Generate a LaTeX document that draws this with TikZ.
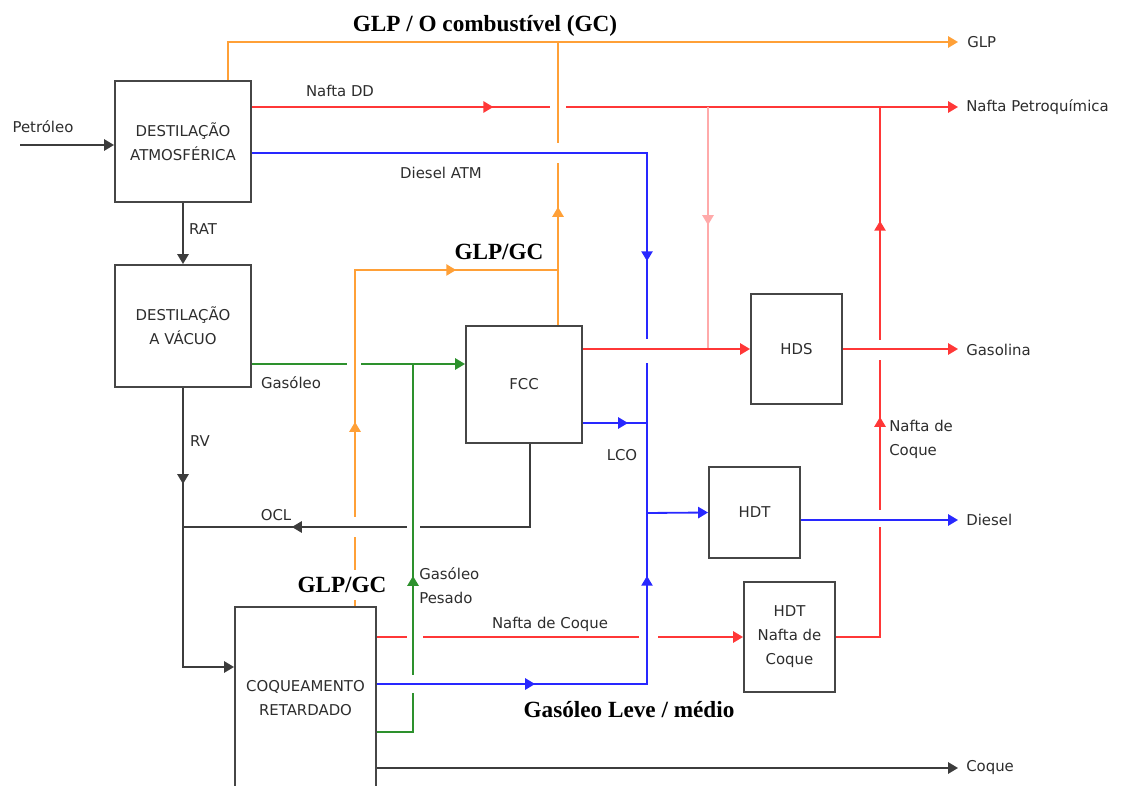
\documentclass[tikz,border=0pt]{standalone}
\usepackage{fontspec}
\usepackage{tikz}
\usetikzlibrary{arrows.meta,positioning,calc,decorations.markings}
\newfontfamily\lblfont{DejaVu Sans}
\newfontfamily\titlefont{Liberation Serif}
\definecolor{flowred}{RGB}{255,55,55}
\definecolor{flowpink}{RGB}{255,170,170}
\definecolor{flowblue}{RGB}{40,40,255}
\definecolor{floworange}{RGB}{255,160,55}
\definecolor{flowgreen}{RGB}{45,145,45}
\definecolor{flowblack}{RGB}{60,60,60}
\definecolor{boxgray}{RGB}{70,70,70}
\definecolor{txtgray}{RGB}{45,45,45}

\begin{document}
\begin{tikzpicture}[x=0.025cm, y=-0.025cm,
  >={Triangle[length=7pt,width=8pt]},
  unit/.style={rectangle, draw=boxgray, line width=1.4pt, inner sep=0pt, align=center, text=txtgray, font=\lblfont\fontsize{10.6}{17}\selectfont},
  lbl/.style={inner sep=0pt, text=txtgray, font=\lblfont\fontsize{10.6}{17}\selectfont},
  big/.style={inner sep=1pt, text=black, font=\titlefont\bfseries\fontsize{16.5}{18}\selectfont},
  flow/.style={line width=1.3pt},
  gap/.style={draw=white, line width=4.5pt},
  midarr/.style={postaction={decorate, decoration={markings, mark=at position #1 with {\arrow{>}}}}}
]
\useasboundingbox (0,0) rectangle (1122,786);

\node[unit, minimum width=3.4cm, minimum height=3.025cm] (atm) at (183,141.5) {DESTILAÇÃO\\ATMOSFÉRICA};
\node[unit, minimum width=3.4cm, minimum height=3.05cm] (vac) at (183,326) {DESTILAÇÃO\\A VÁCUO};
\node[unit, minimum width=2.9cm, minimum height=2.925cm] (fcc) at (524,384.5) {FCC};
\node[unit, minimum width=2.275cm, minimum height=2.75cm] (hds) at (796.5,349) {HDS};
\node[unit, minimum width=2.275cm, minimum height=2.275cm] (hdt) at (754.5,512.5) {HDT};
\node[unit, minimum width=2.275cm, minimum height=2.75cm] (hdtn) at (789.5,637) {HDT\\Nafta de\\Coque};
\node[unit, minimum width=3.525cm, minimum height=4.575cm] (coq) at (305.5,698.5) {COQUEAMENTO\\RETARDADO};

\coordinate (pin) at (20,145);
\coordinate (glpT) at (228,42);
\coordinate (glpE) at (958,42);
\coordinate (npE) at (958,107);
\coordinate (pinkT) at (708,107);
\coordinate (ocT) at (558,42);
\coordinate (ocM) at (558,270);
\coordinate (ocL) at (355,270);
\coordinate (dATM) at (647,153);
\coordinate (bjH) at (647,513);
\coordinate (lcoJ) at (647,423);
\coordinate (bjB) at (647,684);
\coordinate (gasE) at (958,349);
\coordinate (dieE) at (958,520);
\coordinate (rcT) at (880,107);
\coordinate (coqE) at (958,768);
\coordinate (gj) at (413,364);
\coordinate (gpC) at (413,732);
\coordinate (oclC) at (530,527);
\coordinate (rvJ) at (183,527);
\coordinate (rvB) at (183,667);

\draw[flow, flowred, ->, midarr=6.03cm] (atm.east |- npE) -- (npE);
\draw[gap] (550,107) -- (566,107);
\draw[flow, flowpink, midarr=2.95cm] (pinkT) -- (pinkT |- hds.west);
\draw[flow, floworange, midarr=2.95cm] (fcc.north -| ocT) -- (ocT);
\draw[gap] (558,143) -- (558,163);
\draw[flow, flowblue, midarr=12.575cm] (atm.east |- dATM) -- (dATM) -- (bjH);
\draw[gap] (647,339) -- (647,363);
\draw[flow, flowred, ->] (fcc.east |- hds.west) -- (hds.west);
\draw[flow, flowred, midarr=6.6cm, midarr=11.5cm] (hdtn.east) -| (rcT);
\draw[gap] (880,340) -- (880,360);
\draw[gap] (880,510) -- (880,527);
\draw[flow, flowred, ->] (hds.east) -- (gasE);
\draw[flow, flowblue, ->] (hdt.east |- dieE) -- (dieE);
\draw[flow, flowred, ->] (coq.east |- hdtn.west) -- (hdtn.west);
\draw[gap] (407,637) -- (423,637);
\draw[gap] (639,637) -- (658,637);
\draw[flow, flowgreen, ->] (vac.east |- gj) -- (fcc.west |- gj);
\draw[gap] (347,364) -- (361,364);
\draw[flow, floworange, midarr=4.6cm, midarr=10.925cm] (coq.north -| ocL) -- (ocL) -- (ocM);
\draw[gap] (355,517) -- (355,537);
\draw[flow, flowblack, midarr=8.025cm] (fcc.south -| oclC) -- (oclC) -- (rvJ);
\draw[gap] (407,527) -- (420,527);
\draw[flow, flowgreen, midarr=4.8cm] (coq.east |- gpC) -- (gpC) -- (gj);
\draw[gap] (413,675) -- (413,693);
\draw[flow, flowblue, midarr=3.95cm, midarr=9.45cm] (coq.east |- bjB) -- (bjB) -- (bjH);
\draw[flow, flowblue, midarr=1.125cm] (fcc.east |- lcoJ) -- (lcoJ);
\draw[flow, flowblue, ->] (bjH) -- (hdt.west);
\draw[flow, floworange, ->] (atm.north -| glpT) -- (glpT) -- (glpE);
\draw[flow, flowblack, ->] (pin) -- (pin -| atm.west);
\draw[flow, flowblack, ->] (atm.south) -- (vac.north);
\draw[flow, flowblack, ->, midarr=2.4cm] (vac.south) -- (rvB) -- (rvB -| coq.west);
\draw[flow, flowblack, ->] (coq.east |- coqE) -- (coqE);

\node[lbl] (lpet) at (43,127) {Petróleo};
\node[lbl] (lndd) at (340,91) {Nafta DD};
\node[lbl] (ldatm) at (441,173) {Diesel ATM};
\node[big] (ltitle) at (485,26) {GLP / O combustível (GC)};
\node[big] (lglpgc) at (499,252) {GLP/GC};
\node[lbl, anchor=west] (lglp) at (967,42) {GLP};
\node[lbl, anchor=west] (lnp) at (966,107) {Nafta Petroquímica};
\node[lbl, anchor=west] (lgas) at (966,350) {Gasolina};
\node[lbl, anchor=west] (ldie) at (966,520) {Diesel};
\node[lbl, anchor=west] (lcoq) at (966,768) {Coque};
\node[lbl] (lrat) at (203,229) {RAT};
\node[lbl] (lgasoleo) at (291,383) {Gasóleo};
\node[lbl] (lrv) at (200,441) {RV};
\node[lbl] (locl) at (276,515) {OCL};
\node[lbl] (llco) at (622,455) {LCO};
\node[lbl, anchor=west, align=left] (lnc) at (889,439) {Nafta de\\Coque};
\node[big, fill=white, inner ysep=5pt] (lglpgc2) at (342,585) {GLP/GC};
\node[lbl, anchor=west, align=left] (lgp) at (419,586) {Gasóleo\\Pesado};
\node[lbl] (lnafc) at (550,624) {Nafta de Coque};
\node[big] (lglm) at (629,710) {Gasóleo Leve / médio};
\end{tikzpicture}
\end{document}
